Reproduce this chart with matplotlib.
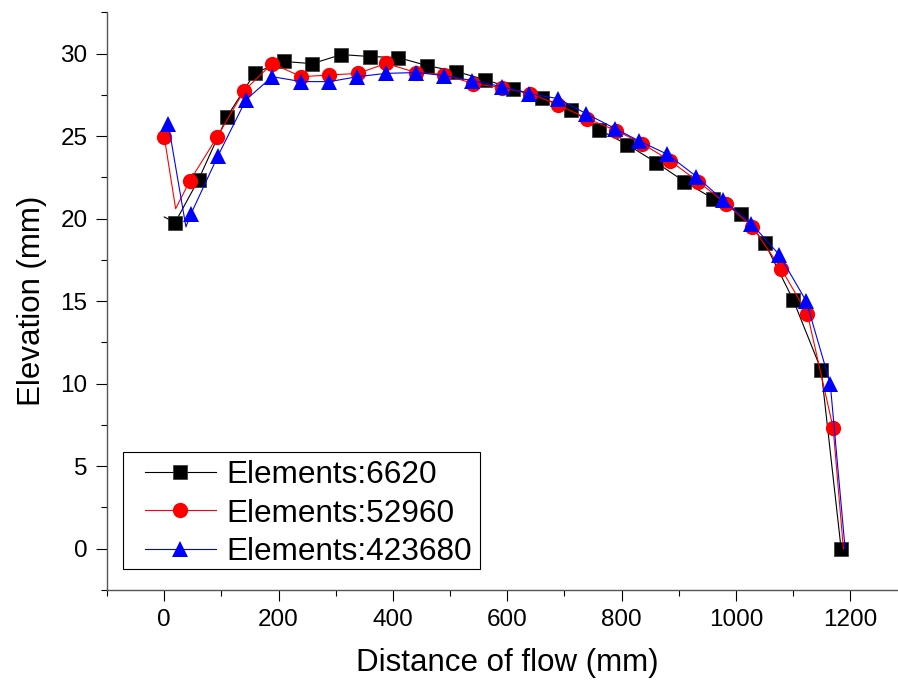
import matplotlib.pyplot as plt
from matplotlib.patches import Rectangle
from matplotlib.ticker import MultipleLocator

plt.rcParams['font.family'] = ['Liberation Sans', 'DejaVu Sans']

# Elements:6620 (every point carries a marker except the first one)
x_6620 = [0, 19, 60, 110, 159, 210, 259, 310, 360, 409, 460, 511, 561, 610, 660,
          712, 761, 810, 861, 910, 960, 1009, 1050, 1100, 1149, 1184]
y_6620 = [20.1, 19.76, 22.36, 26.18, 28.85, 29.52, 29.39, 29.94, 29.82, 29.76, 29.27,
          28.91, 28.42, 27.88, 27.33, 26.61, 25.39, 24.48, 23.39, 22.24, 21.21, 20.30,
          18.55, 15.09, 10.85, 0.0]

# Elements:52960 (second and last points are line-only)
x_52960 = [0, 20, 45, 93, 140, 189, 240, 289, 339, 388, 441, 490, 540, 590, 640, 689,
           740, 791, 836, 885, 934, 983, 1029, 1079, 1125, 1170, 1188]
y_52960 = [24.97, 20.6, 22.3, 24.97, 27.76, 29.39, 28.6, 28.7, 28.8, 29.4, 28.85, 28.73,
           28.18, 27.94, 27.58, 26.9, 26.06, 25.33, 24.55, 23.5, 22.24, 20.9, 19.5, 16.97,
           14.24, 7.33, 0.0]

# Elements:423680 (second and last points are line-only)
x_423680 = [7, 38, 47, 94, 143, 189, 240, 289, 338, 388, 441, 490, 539, 590, 638, 689,
            738, 789, 831, 880, 931, 978, 1027, 1076, 1123, 1165, 1191]
y_423680 = [25.76, 19.5, 20.3, 23.8, 27.2, 28.6, 28.3, 28.3, 28.6, 28.8, 28.85, 28.67,
            28.36, 28.0, 27.58, 27.27, 26.36, 25.45, 24.7, 23.9, 22.55, 21.1, 19.7, 17.8,
            15.0, 10.0, 0.0]

labels = ['Elements:6620', 'Elements:52960', 'Elements:423680']

W, H = 898, 684
fig = plt.figure(figsize=(W / 100, H / 100), dpi=100)
ax = fig.add_axes([0.1192, 0.1375, 0.8913, 0.8445])

ax.plot(x_6620, y_6620, color='black', lw=0.8, marker='s', ms=9.5,
        mfc='black', mec='#333333', mew=0.5,
        markevery=list(range(1, len(x_6620))), label=labels[0])
ax.plot(x_52960, y_52960, color='red', lw=0.8, marker='o', ms=11,
        mfc='red', mec='red', mew=0,
        markevery=[0] + list(range(2, len(x_52960) - 1)), label=labels[1])
ax.plot(x_423680, y_423680, color='blue', lw=0.8, marker='^', ms=11,
        mfc='blue', mec='blue', mew=0,
        markevery=[0] + list(range(2, len(x_423680) - 1)), label=labels[2])

ax.set_xlim(-100, 1300)
ax.set_ylim(-2.5, 32.5)
ax.xaxis.set_major_locator(MultipleLocator(200))
ax.xaxis.set_minor_locator(MultipleLocator(100))
ax.yaxis.set_major_locator(MultipleLocator(5))
ax.yaxis.set_minor_locator(MultipleLocator(2.5))

for side in ['top', 'right']:
    ax.spines[side].set_visible(False)
for side in ['left', 'bottom']:
    ax.spines[side].set_color('#555555')
    ax.spines[side].set_linewidth(1.0)

ax.tick_params(which='major', direction='out', length=8, width=0.8, labelsize=17.5, pad=6)
ax.tick_params(which='minor', direction='out', length=4, width=0.8)

ax.set_xlabel('Distance of flow (mm)', fontsize=22.5, labelpad=12)
ax.set_ylabel('Elevation (mm)', fontsize=22.5, labelpad=10)

# legend frame drawn by hand so padding can differ horizontally / vertically
frame = Rectangle((123 / W, 1 - 569 / H), 357 / W, 117 / H,
                  transform=fig.transFigure, fc='white', ec='black', lw=0.8,
                  zorder=5, clip_on=False)
ax.add_patch(frame)
leg = ax.legend(loc='center left', bbox_to_anchor=(145 / W, 1 - 513.5 / H),
                bbox_transform=fig.transFigure, fontsize=22.7, frameon=False,
                borderaxespad=0, borderpad=0, labelspacing=0.26,
                handlelength=2.24, handletextpad=0.35)
leg.set_zorder(6)

fig.savefig('out.png', dpi=100)
